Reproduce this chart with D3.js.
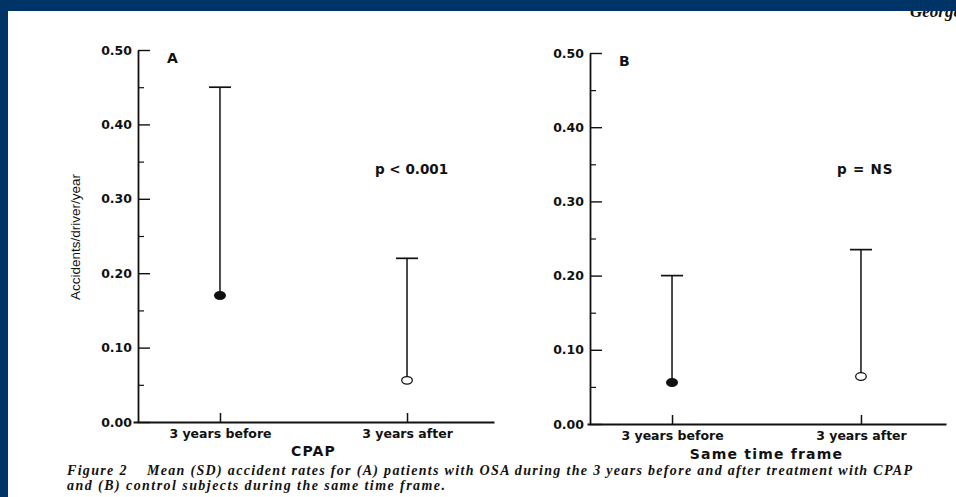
<!DOCTYPE html>
<html>
<head>
<meta charset="utf-8">
<script src="https://cdn.jsdelivr.net/npm/d3@7"></script>
<style>
  body { margin: 0; background: #fff; }
  svg { display: block; }
</style>
</head>
<body>
<div id="chart"></div>
<script>
// values
const categories = ["3 years before", "3 years after"];
const meanA = [0.17, 0.056];
const upperA = [0.45, 0.22];
const meanB = [0.056, 0.064];
const upperB = [0.20, 0.235];
const markerFilled = [true, false];
const majorTicks = [0, 0.1, 0.2, 0.3, 0.4, 0.5];
const minorTicks = [0.05, 0.15, 0.25, 0.35, 0.45];
const panelLabels = ["A", "B"];
const pLabels = ["p < 0.001", "p = NS"];
const xTitles = ["CPAP", "Same time frame"];
const yTitle = "Accidents/driver/year";
const caption = [
  "Figure 2    Mean (SD) accident rates for (A) patients with OSA during the 3 years before and after treatment with CPAP",
  "and (B) control subjects during the same time frame."
];

const width = 956, height = 497;
const ink = "#111";

const svg = d3.select("#chart")
    .append("svg")
    .attr("width", width)
    .attr("height", height);

svg.append("rect").attr("width", width).attr("height", height).attr("fill", "#fff");

// running header, cut by the blue band
svg.append("text")
    .attr("x", 910).attr("y", 17)
    .style("font-family", "Liberation Serif")
    .style("font-style", "italic")
    .style("font-weight", "bold")
    .style("font-size", "17px")
    .attr("fill", ink)
    .text("George");

// frame
svg.append("rect").attr("x", 0).attr("y", 0).attr("width", width).attr("height", 11).attr("fill", "#003366");
svg.append("rect").attr("x", 0).attr("y", 0).attr("width", 8).attr("height", height).attr("fill", "#003366");

// panel layout (positions only)
const panels = [
  { yAxisX: 138, top: 50, bottom: 422, xStart: 133, xEnd: 494, pad: 0.465, mean: meanA, upper: upperA, pX: 375, pY: 174, titleDy: 34 },
  { yAxisX: 590, top: 53, bottom: 424, xStart: 587, xEnd: 946, pad: 0.45, mean: meanB, upper: upperB, pX: 837, pY: 174, titleDy: 35 }
];

panels.forEach((p, i) => {
  const y = d3.scaleLinear().domain([0, 0.5]).range([p.bottom, p.top]);
  const x = d3.scalePoint().domain(categories).range([p.xStart, p.xEnd]).padding(p.pad);

  const g = svg.append("g");

  // minor y ticks
  g.append("g")
      .attr("transform", `translate(${p.yAxisX},0)`)
      .call(d3.axisLeft(y).tickValues(minorTicks).tickSizeInner(-6).tickSizeOuter(0).tickFormat(""))
      .call(a => a.select(".domain").remove())
      .call(a => a.selectAll("line").attr("stroke", ink).attr("stroke-width", 1.2));

  // major y ticks + labels
  g.append("g")
      .attr("transform", `translate(${p.yAxisX},0)`)
      .call(d3.axisLeft(y).tickValues(majorTicks).tickSizeInner(-12).tickSizeOuter(0).tickPadding(6)
        .tickFormat(d3.format(".2f")))
      .call(a => a.select(".domain").attr("stroke", ink).attr("stroke-width", 1.8))
      .call(a => a.selectAll("line").attr("stroke", ink).attr("stroke-width", 1.4))
      .call(a => a.selectAll("text")
          .attr("fill", ink)
          .style("font-family", "DejaVu Sans")
          .style("font-weight", "bold")
          .style("font-size", "12.5px"));

  // x axis
  g.append("g")
      .attr("transform", `translate(0,${p.bottom})`)
      .call(d3.axisBottom(x).tickSizeInner(-9).tickSizeOuter(0).tickPadding(7))
      .call(a => a.select(".domain").attr("stroke", ink).attr("stroke-width", 1.8))
      .call(a => a.selectAll("line").attr("stroke", ink).attr("stroke-width", 1.5))
      .call(a => a.selectAll("text")
          .attr("fill", ink)
          .style("font-family", "DejaVu Sans")
          .style("font-weight", "bold")
          .style("font-size", "12.5px"));

  // x title
  g.append("text")
      .attr("x", (x(categories[0]) + x(categories[1])) / 2)
      .attr("y", p.bottom + p.titleDy)
      .attr("text-anchor", "middle")
      .attr("fill", ink)
      .style("font-family", "DejaVu Sans")
      .style("font-weight", "bold")
      .style("font-size", "14px")
      .style("letter-spacing", "1.2px")
      .text(xTitles[i]);

  // panel letter
  g.append("text")
      .attr("x", p.yAxisX + 29)
      .attr("y", p.top + 13)
      .attr("fill", ink)
      .style("font-family", "DejaVu Sans")
      .style("font-weight", "bold")
      .style("font-size", "14px")
      .text(panelLabels[i]);

  // p value
  g.append("text")
      .attr("x", p.pX)
      .attr("y", p.pY)
      .attr("fill", ink)
      .style("font-family", "DejaVu Sans")
      .style("font-weight", "bold")
      .style("font-size", "13.5px")
      .style("letter-spacing", i === 0 ? "0px" : "0.8px")
      .text(pLabels[i]);

  const rows = categories.map((c, k) => ({ c, mean: p.mean[k], upper: p.upper[k], filled: markerFilled[k] }));

  // SD whiskers
  g.selectAll(".whisker")
      .data(rows)
      .join("line")
      .attr("class", "whisker")
      .attr("x1", d => x(d.c)).attr("x2", d => x(d.c))
      .attr("y1", d => y(d.mean)).attr("y2", d => y(d.upper))
      .attr("stroke", ink).attr("stroke-width", 1.5);

  g.selectAll(".cap")
      .data(rows)
      .join("line")
      .attr("class", "cap")
      .attr("x1", d => x(d.c) - 11).attr("x2", d => x(d.c) + 11)
      .attr("y1", d => y(d.upper)).attr("y2", d => y(d.upper))
      .attr("stroke", ink).attr("stroke-width", 1.7);

  // means
  g.selectAll(".mean")
      .data(rows)
      .join("ellipse")
      .attr("class", "mean")
      .attr("cx", d => x(d.c))
      .attr("cy", d => y(d.mean))
      .attr("rx", d => d.filled ? 6 : 5.3)
      .attr("ry", d => d.filled ? 4.5 : 3.8)
      .attr("fill", d => d.filled ? ink : "#fff")
      .attr("stroke", ink)
      .attr("stroke-width", d => d.filled ? 0 : 1.3);
});

// y title (left panel only)
svg.append("text")
    .attr("transform", "translate(80,237) rotate(-90)")
    .attr("text-anchor", "middle")
    .attr("fill", ink)
    .style("font-family", "Liberation Sans")
    .style("font-size", "13.5px")
    .text(yTitle);

// caption
const capWidths = [845, 378];
caption.forEach((line, k) => {
  svg.append("text")
      .attr("x", 67)
      .attr("y", 475 + k * 15)
      .attr("fill", ink)
      .attr("textLength", capWidths[k])
      .attr("lengthAdjust", "spacing")
      .style("white-space", "pre")
      .style("font-family", "Liberation Serif")
      .style("font-style", "italic")
      .style("font-weight", "bold")
      .style("font-size", "14px")
      .text(line);
});
</script>
</body>
</html>
